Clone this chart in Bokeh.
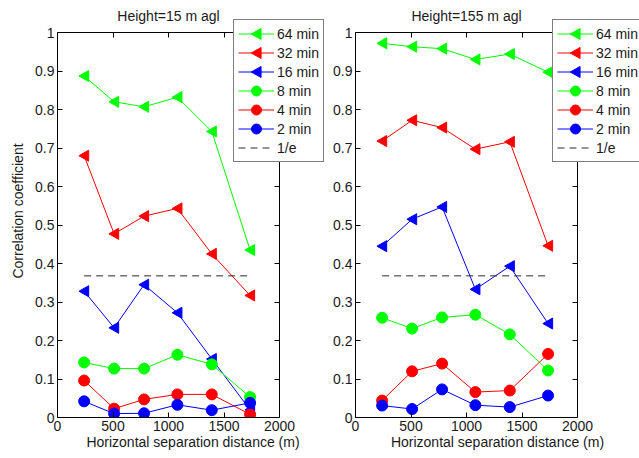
import numpy as np
from bokeh.plotting import figure
from bokeh.models import (Range1d, FixedTicker, LinearAxis, Legend, LegendItem,
                          CustomJSTickFormatter, Label, CustomJS)
from bokeh.layouts import row
from bokeh.embed import file_html
from bokeh.resources import INLINE

# ---------------- data ----------------
distance = [240, 510, 780, 1080, 1390, 1735]
series_labels = ["64 min", "32 min", "16 min", "8 min", "4 min", "2 min"]
series_colors = ["#00ff00", "#ff0000", "#0000ff", "#00ff00", "#ff0000", "#0000ff"]
series_markers = ["@ltri", "@ltri", "@ltri", "@dot", "@dot", "@dot"]

h15_64 = [0.887, 0.820, 0.807, 0.832, 0.743, 0.435]
h15_32 = [0.680, 0.477, 0.523, 0.543, 0.425, 0.317]
h15_16 = [0.328, 0.233, 0.345, 0.272, 0.152, 0.020]
h15_8 = [0.143, 0.127, 0.127, 0.163, 0.138, 0.053]
h15_4 = [0.096, 0.023, 0.047, 0.060, 0.060, 0.008]
h15_2 = [0.042, 0.010, 0.011, 0.033, 0.019, 0.038]

h155_64 = [0.972, 0.963, 0.958, 0.930, 0.944, 0.897]
h155_32 = [0.718, 0.772, 0.753, 0.697, 0.716, 0.446]
h155_16 = [0.445, 0.515, 0.547, 0.333, 0.393, 0.244]
h155_8 = [0.259, 0.231, 0.260, 0.267, 0.216, 0.122]
h155_4 = [0.044, 0.120, 0.140, 0.066, 0.070, 0.165]
h155_2 = [0.031, 0.022, 0.073, 0.032, 0.027, 0.057]

inv_e = 1.0 / np.e
x_ticks = [0, 500, 1000, 1500, 2000]
y_ticks = [0, 0.1, 0.2, 0.3, 0.4, 0.5, 0.6, 0.7, 0.8, 0.9, 1.0]

titles = ["Height=15 m agl", "Height=155 m agl"]
x_label = "Horizontal separation distance (m)"
y_label = "Correlation coefficient"

# ---------------- layout constants (pixels) ----------------
FONT = "Liberation Sans"
FS = "14px"
TXT = "#1a1a1a"
H = 458
TOP = 4            # frame starts here (title is drawn inside the frame area)
BOTTOM = 41        # below the axes box
BOX_W = 222        # width of the axes box
BOX_H = 385        # height of the axes box

X0, X1 = x_ticks[0], x_ticks[-1]
Y0, Y1 = y_ticks[0], y_ticks[-1]

fmt_y = CustomJSTickFormatter(code="var s = tick.toFixed(1); return s.replace(/\\.0$/, '');")
fmt_none = CustomJSTickFormatter(code="return '';")

# MATLAB-like markers: left-pointing triangle and filled dot (painted directly)
marker_defs = {
    "@ltri": CustomJS(code="""
export default (args, obj, {ctx, i, r, visuals}) => {
  const R = Math.max(r, 6.5)
  ctx.beginPath()
  ctx.moveTo(-0.8*R, 0)
  ctx.lineTo(0.7*R, -0.85*R)
  ctx.lineTo(0.7*R, 0.85*R)
  ctx.closePath()
  visuals.fill.apply(ctx, i)
  visuals.line.apply(ctx, i)
}
"""),
    "@dot": CustomJS(code="""
export default (args, obj, {ctx, i, r, visuals}) => {
  const R = Math.max(r, 5)
  ctx.beginPath()
  ctx.arc(0, 0, R, 0, 2*Math.PI, false)
  visuals.fill.apply(ctx, i)
  visuals.line.apply(ctx, i)
}
"""),
}


def style_axis(ax, labels=True):
    ax.axis_line_color = "black"
    ax.major_tick_line_color = "black"
    ax.major_tick_in = 5
    ax.major_tick_out = 0
    ax.minor_tick_line_color = None
    ax.major_label_text_font = FONT
    ax.major_label_text_font_size = FS if labels else "0px"
    ax.major_label_text_color = TXT
    ax.major_label_standoff = 3 if labels else 0
    ax.axis_label_text_font = FONT
    ax.axis_label_text_font_size = FS
    ax.axis_label_text_font_style = "normal"
    ax.axis_label_text_color = TXT
    ax.axis_label_standoff = 0


def make_panel(title, ys, width, mbl, show_ylabel, legend_x):
    frame_w = width - mbl
    frame_h = H - TOP - BOTTOM
    x_end = X0 + (X1 - X0) * frame_w / BOX_W
    y_end = Y0 + (Y1 - Y0) * frame_h / BOX_H
    p = figure(width=width, height=H, output_backend="svg", toolbar_location=None,
               x_range=Range1d(X0, x_end), y_range=Range1d(Y0, y_end),
               min_border_left=mbl, min_border_right=0,
               min_border_top=TOP, min_border_bottom=BOTTOM)
    p.grid.visible = False
    p.outline_line_color = None
    p.background_fill_color = "white"
    p.border_fill_color = "white"

    p.xaxis.ticker = FixedTicker(ticks=x_ticks)
    p.yaxis.ticker = FixedTicker(ticks=y_ticks)
    p.xaxis.bounds = (X0, X1)
    p.yaxis.bounds = (Y0, Y1)
    p.yaxis.formatter = fmt_y
    for ax in p.xaxis + p.yaxis:
        style_axis(ax)
    p.xaxis.axis_label = x_label
    if show_ylabel:
        p.yaxis.axis_label = y_label
        p.yaxis.axis_label_standoff = 6

    # remaining sides of the axes box
    top = LinearAxis(ticker=FixedTicker(ticks=x_ticks), fixed_location=Y1,
                     bounds=(X0, X1), formatter=fmt_none)
    style_axis(top, labels=False)
    p.add_layout(top, "above")
    right = LinearAxis(ticker=FixedTicker(ticks=y_ticks), fixed_location=X1,
                       bounds=(Y0, Y1), formatter=fmt_none)
    style_axis(right, labels=False)
    p.add_layout(right, "right")

    p.add_layout(Label(x=(X0 + X1) / 2, y=Y1, y_offset=17, text=title,
                       text_align="center", text_baseline="middle",
                       text_font=FONT, text_font_size=FS, text_color=TXT))

    items = []
    for lab, col, mk, yv in zip(series_labels, series_colors, series_markers, ys):
        lr = p.line(distance, yv, line_color=col, line_width=1)
        sz = 13 if mk == "@ltri" else 11
        sr = p.scatter(distance, yv, marker=mk, defs=marker_defs, size=sz,
                       fill_color=col, line_color=col, line_width=1)
        items.append(LegendItem(label=lab, renderers=[lr, sr]))

    er = p.line([distance[0], distance[-1]], [inv_e, inv_e], line_color="#2a2a2a",
                line_width=1, line_dash="7 5")
    items.append(LegendItem(label="1/e", renderers=[er]))

    legend = Legend(items=items, location=(legend_x, 255))
    legend.label_text_font = FONT
    legend.label_text_font_size = FS
    legend.label_text_color = TXT
    legend.glyph_width = 36
    legend.glyph_height = 19
    legend.label_height = 19
    legend.label_standoff = 3
    legend.spacing = 0
    legend.padding = 4
    legend.margin = 0
    legend.border_line_color = "black"
    legend.border_line_width = 1
    legend.background_fill_color = "white"
    legend.background_fill_alpha = 1
    p.add_layout(legend, "center")
    return p


p1 = make_panel(titles[0], [h15_64, h15_32, h15_16, h15_8, h15_4, h15_2],
                328, 57, True, 176)
p2 = make_panel(titles[1], [h155_64, h155_32, h155_16, h155_8, h155_4, h155_2],
                311, 27, False, 197)

layout = row(p1, p2, spacing=0)
open("out.html", "w").write(file_html(layout, INLINE))
